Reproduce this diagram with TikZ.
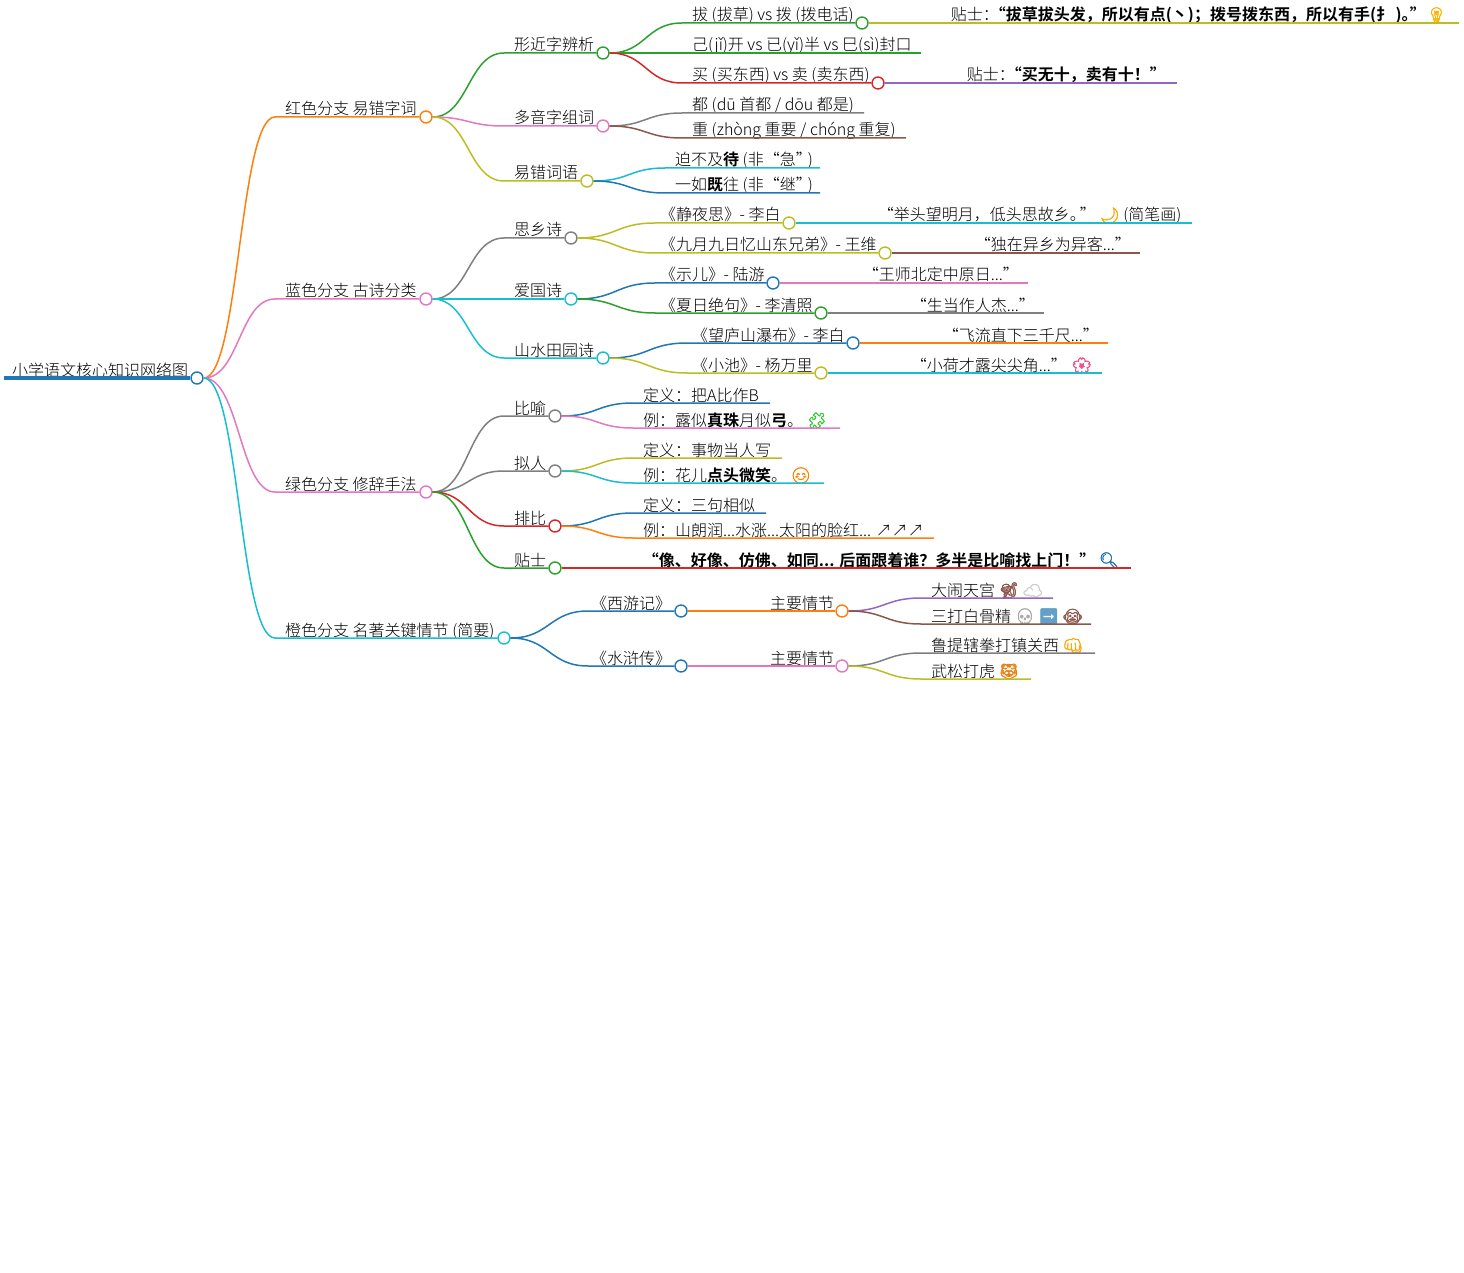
\documentclass[tikz,border=0pt]{standalone}
\usepackage{fontspec}
\setmainfont{Noto Sans CJK SC Light}[BoldFont={Noto Sans CJK SC Bold}]
\newfontfamily\emojifont{Noto Emoji}[FakeBold=2]
\usetikzlibrary{positioning}
\usetikzlibrary{calc}
\definecolor{cblue}{HTML}{1F77B4}
\definecolor{corange}{HTML}{FF7F0E}
\definecolor{cgreen}{HTML}{2CA02C}
\definecolor{cred}{HTML}{D62728}
\definecolor{cpurple}{HTML}{9467BD}
\definecolor{cbrown}{HTML}{8C564B}
\definecolor{cpink}{HTML}{E377C2}
\definecolor{cgray}{HTML}{7F7F7F}
\definecolor{colive}{HTML}{BCBD22}
\definecolor{ccyan}{HTML}{17BECF}
\newcommand{\emo}[2]{{\emojifont\color{#1}#2}}
\newcommand{\kn}[1]{\hspace{-#1pt}} % Pull wide punctuation together
\tikzset{
      dot/.style={ % Circle at the end of a branch
      circle,
      draw,
      fill=white,
      line width=1.4pt,
      minimum size=12pt,
      inner sep=0pt},
      lbl/.style={ % Text sits on the line
      inner sep=0pt,
      yshift=2pt,
      font=\fontsize{16}{18}\selectfont},
      link/.style={ % Bend with both control points half way
      line width=1.5pt,
      to path={let \p1=(\tikztostart), \p2=(\tikztotarget), \n1={0.5*(\x1+\x2)} in
            .. controls (\n1,\y1) and (\n1,\y2) .. (\p2)}}}

\begin{document}
\begin{tikzpicture}[x=1pt,y=-1pt]
      \useasboundingbox (0,0) rectangle (1464,1273);
      % dots
      \node[dot, draw=cblue] (root) at (197,378) {};
      \node[dot, draw=corange] (a) at (426,117) {};
      \node[dot, draw=cpink] (b) at (426,299) {};
      \node[dot, draw=cpink] (c) at (426,492) {};
      \node[dot, draw=ccyan] (d) at (504,638) {};
      \node[dot, draw=cgreen] (a1) at (603,53) {};
      \node[dot, draw=cpink] (a2) at (603,126) {};
      \node[dot, draw=colive] (a3) at (587,181) {};
      \node[dot, draw=cgreen] (a11) at (862,23) {};
      \node[dot, draw=cred] (a13) at (878,83) {};
      \node[dot, draw=cgray] (b1) at (571,238) {};
      \node[dot, draw=ccyan] (b2) at (571,299) {};
      \node[dot, draw=ccyan] (b3) at (603,358) {};
      \node[dot, draw=colive] (b11) at (789,223) {};
      \node[dot, draw=colive] (b12) at (885,253) {};
      \node[dot, draw=cblue] (b21) at (773,283) {};
      \node[dot, draw=cgreen] (b22) at (821,313) {};
      \node[dot, draw=cblue] (b31) at (853,343) {};
      \node[dot, draw=colive] (b32) at (821,373) {};
      \node[dot, draw=cgray] (c1) at (555,416) {};
      \node[dot, draw=cgray] (c2) at (555,471) {};
      \node[dot, draw=cred] (c3) at (555,526) {};
      \node[dot, draw=cgreen] (c4) at (555,568) {};
      \node[dot, draw=cblue] (d1) at (681,611) {};
      \node[dot, draw=cblue] (d2) at (681,666) {};
      \node[dot, draw=corange] (d11) at (842,611) {};
      \node[dot, draw=cpink] (d21) at (842,666) {};
      % where a curve turns into a straight line
      \coordinate (rootb) at (4,378);
      \coordinate (ab) at (275,117);
      \coordinate (bb) at (275,299);
      \coordinate (cb) at (275,492);
      \coordinate (db) at (275,638);
      \coordinate (a1b) at (504,53);
      \coordinate (a2b) at (504,126);
      \coordinate (a3b) at (504,181);
      \coordinate (a11b) at (682,23);
      \coordinate (a12b) at (682,53);
      \coordinate (a13b) at (682,83);
      \coordinate (a21b) at (682,113);
      \coordinate (a22b) at (682,138);
      \coordinate (a31b) at (665,168);
      \coordinate (a32b) at (665,193);
      \coordinate (b1b) at (504,238);
      \coordinate (b2b) at (504,299);
      \coordinate (b3b) at (504,358);
      \coordinate (b11b) at (655,223);
      \coordinate (b12b) at (655,253);
      \coordinate (b21b) at (655,283);
      \coordinate (b22b) at (655,313);
      \coordinate (b31b) at (687,343);
      \coordinate (b32b) at (687,373);
      \coordinate (c1b) at (504,416);
      \coordinate (c2b) at (504,471);
      \coordinate (c3b) at (504,526);
      \coordinate (c4b) at (504,568);
      \coordinate (c11b) at (633,403);
      \coordinate (c12b) at (633,428);
      \coordinate (c21b) at (633,458);
      \coordinate (c22b) at (633,483);
      \coordinate (c31b) at (633,513);
      \coordinate (c32b) at (633,538);
      \coordinate (d1b) at (588,611);
      \coordinate (d2b) at (588,666);
      \coordinate (d11b) at (760,611);
      \coordinate (d21b) at (760,666);
      \coordinate (d111b) at (921,598);
      \coordinate (d112b) at (921,624);
      \coordinate (d211b) at (921,653);
      \coordinate (d212b) at (921,679);
      % free ends
      \coordinate (a11e) at (1459,23);
      \coordinate (a12e) at (921,53);
      \coordinate (a13e) at (1177,83);
      \coordinate (a21e) at (864,113);
      \coordinate (a22e) at (906,138);
      \coordinate (a31e) at (820,168);
      \coordinate (a32e) at (820,193);
      \coordinate (b11e) at (1192,223);
      \coordinate (b12e) at (1140,253);
      \coordinate (b21e) at (1028,283);
      \coordinate (b22e) at (1044,313);
      \coordinate (b31e) at (1108,343);
      \coordinate (b32e) at (1102,373);
      \coordinate (c11e) at (770,403);
      \coordinate (c12e) at (840,428);
      \coordinate (c21e) at (782,458);
      \coordinate (c22e) at (824,483);
      \coordinate (c31e) at (766,513);
      \coordinate (c32e) at (934,538);
      \coordinate (c4e) at (1131,568);
      \coordinate (d111e) at (1053,598);
      \coordinate (d112e) at (1091,624);
      \coordinate (d211e) at (1095,653);
      \coordinate (d212e) at (1031,679);
      % texts
      \node[lbl, base right=8pt of rootb] (troot) {小学语文核心知识网络图};
      \node[lbl, base right=10pt of ab] (ta) {红色分支 易错字词};
      \node[lbl, base right=10pt of bb] (tb) {蓝色分支 古诗分类};
      \node[lbl, base right=10pt of cb] (tc) {绿色分支 修辞手法};
      \node[lbl, base right=10pt of db] (td) {橙色分支 名著关键情节 (简要)};
      \node[lbl, base right=10pt of a1b] (ta1) {形近字辨析};
      \node[lbl, base right=10pt of a2b] (ta2) {多音字组词};
      \node[lbl, base right=10pt of a3b] (ta3) {易错词语};
      \node[lbl, base right=10pt of a11b] (ta11) {拔 (拔草) vs 拨 (拨电话)};
      \node[lbl, base right=82pt of a11] (ta111) {贴士：\kn{9}\textbf{“拔草拔头发，所以有点(丶)；拨号拨东西，所以有手(扌 )。\kn{8}”}\kn{3} \emo{orange!60!yellow}{💡}};
      \node[lbl, base right=10pt of a12b] (ta12) {己(jǐ)开 vs 已(yǐ)半 vs 巳(sì)封口};
      \node[lbl, base right=10pt of a13b] (ta13) {买 (买东西) vs 卖 (卖东西)};
      \node[lbl, base right=82pt of a13] (ta131) {贴士：\kn{9}\textbf{“买无十，卖有十！”}};
      \node[lbl, base right=10pt of a21b] (ta21) {都 (dū 首都 / dōu 都是)};
      \node[lbl, base right=10pt of a22b] (ta22) {重 (zhòng 重要 / chóng 重复)};
      \node[lbl, base right=10pt of a31b] (ta31) {迫不及\textbf{待} (非“急”\kn{4})};
      \node[lbl, base right=10pt of a32b] (ta32) {一如\textbf{既}往 (非“继”\kn{4})};
      \node[lbl, base right=10pt of b1b] (tb1) {思乡诗};
      \node[lbl, base right=10pt of b2b] (tb2) {爱国诗};
      \node[lbl, base right=10pt of b3b] (tb3) {山水田园诗};
      \node[lbl, base right=5pt of b11b] (tb11) {《静夜思》\kn{4} - 李白};
      \node[lbl, base right=82pt of b11] (tb111) {“举头望明月，低头思故乡。\kn{6}” \emo{orange!70!yellow}{🌙} (简笔画)};
      \node[lbl, base right=5pt of b12b] (tb12) {《九月九日忆山东兄弟》\kn{4} - 王维};
      \node[lbl, base right=83pt of b12] (tb121) {“独在异乡为异客...”};
      \node[lbl, base right=5pt of b21b] (tb21) {《示儿》\kn{4} - 陆游};
      \node[lbl, base right=83pt of b21] (tb211) {“王师北定中原日...”};
      \node[lbl, base right=5pt of b22b] (tb22) {《夏日绝句》\kn{4} - 李清照};
      \node[lbl, base right=83pt of b22] (tb221) {“生当作人杰...”};
      \node[lbl, base right=5pt of b31b] (tb31) {《望庐山瀑布》\kn{4} - 李白};
      \node[lbl, base right=83pt of b31] (tb311) {“飞流直下三千尺...”};
      \node[lbl, base right=5pt of b32b] (tb32) {《小池》\kn{4} - 杨万里};
      \node[lbl, base right=83pt of b32] (tb321) {“小荷才露尖尖角...” \emo{cpink!70!red}{🌸}};
      \node[lbl, base right=10pt of c1b] (tc1) {比喻};
      \node[lbl, base right=10pt of c2b] (tc2) {拟人};
      \node[lbl, base right=10pt of c3b] (tc3) {排比};
      \node[lbl, base right=10pt of c4b] (tc4) {贴士};
      \node[lbl, base right=10pt of c11b] (tc11) {定义：把A比作B};
      \node[lbl, base right=10pt of c12b] (tc12) {例：露似\textbf{真珠}月似\textbf{弓}。 \emo{green!60!gray}{🧩}};
      \node[lbl, base right=10pt of c21b] (tc21) {定义：事物当人写};
      \node[lbl, base right=10pt of c22b] (tc22) {例：花儿\textbf{点头微笑}。 \emo{orange}{😊}};
      \node[lbl, base right=10pt of c31b] (tc31) {定义：三句相似};
      \node[lbl, base right=10pt of c32b] (tc32) {例：山朗润...水涨...太阳的脸红... ↗↗↗};
      \node[lbl, base right=81pt of c4] (tc41) {\textbf{“像、好像、仿佛、如同... 后面跟着谁？多半是比喻找上门！”} \emo{cblue}{🔍}};
      \node[lbl, base right=3pt of d1b] (td1) {《西游记》};
      \node[lbl, base right=3pt of d2b] (td2) {《水浒传》};
      \node[lbl, base right=10pt of d11b] (td11) {主要情节};
      \node[lbl, base right=10pt of d21b] (td21) {主要情节};
      \node[lbl, base right=10pt of d111b] (td111) {大闹天宫 \emo{cbrown}{🐒} \emo{gray!40}{☁}};
      \node[lbl, base right=10pt of d112b] (td112) {三打白骨精 \emo{gray!70}{💀} \emo{cblue!70}{➡} \emo{cbrown}{🐵}};
      \node[lbl, base right=10pt of d211b] (td211) {鲁提辖拳打镇关西 \emo{orange!70!yellow}{👊}};
      \node[lbl, base right=10pt of d212b] (td212) {武松打虎 \emo{orange!70!brown}{🐯}};
      % branches
      \draw[cblue, line width=3.5pt] (rootb) -- (root);
      \draw[link, corange] (root.east) to (ab) -- (a);
      \draw[link, cpink] (root.east) to (bb) -- (b);
      \draw[link, cpink] (root.east) to (cb) -- (c);
      \draw[link, ccyan] (root.east) to (db) -- (d);
      \draw[link, cgreen] (a.east) to (a1b) -- (a1);
      \draw[link, cpink] (a.east) to (a2b) -- (a2);
      \draw[link, colive] (a.east) to (a3b) -- (a3);
      \draw[link, cgreen] (a1.east) to (a11b) -- (a11);
      \draw[link, cgreen] (a1.east) to (a12b) -- (a12e);
      \draw[link, cred] (a1.east) to (a13b) -- (a13);
      \draw[link, colive] (a11.east) -- (a11e);
      \draw[link, cpurple] (a13.east) -- (a13e);
      \draw[link, cgray] (a2.east) to (a21b) -- (a21e);
      \draw[link, cbrown] (a2.east) to (a22b) -- (a22e);
      \draw[link, ccyan] (a3.east) to (a31b) -- (a31e);
      \draw[link, cblue] (a3.east) to (a32b) -- (a32e);
      \draw[link, cgray] (b.east) to (b1b) -- (b1);
      \draw[link, ccyan] (b.east) to (b2b) -- (b2);
      \draw[link, ccyan] (b.east) to (b3b) -- (b3);
      \draw[link, colive] (b1.east) to (b11b) -- (b11);
      \draw[link, colive] (b1.east) to (b12b) -- (b12);
      \draw[link, cblue] (b2.east) to (b21b) -- (b21);
      \draw[link, cgreen] (b2.east) to (b22b) -- (b22);
      \draw[link, cblue] (b3.east) to (b31b) -- (b31);
      \draw[link, colive] (b3.east) to (b32b) -- (b32);
      \draw[link, ccyan] (b11.east) -- (b11e);
      \draw[link, cbrown] (b12.east) -- (b12e);
      \draw[link, cpink] (b21.east) -- (b21e);
      \draw[link, cgray] (b22.east) -- (b22e);
      \draw[link, corange] (b31.east) -- (b31e);
      \draw[link, ccyan] (b32.east) -- (b32e);
      \draw[link, cgray] (c.east) to (c1b) -- (c1);
      \draw[link, cgray] (c.east) to (c2b) -- (c2);
      \draw[link, cred] (c.east) to (c3b) -- (c3);
      \draw[link, cgreen] (c.east) to (c4b) -- (c4);
      \draw[link, cblue] (c1.east) to (c11b) -- (c11e);
      \draw[link, cpink] (c1.east) to (c12b) -- (c12e);
      \draw[link, colive] (c2.east) to (c21b) -- (c21e);
      \draw[link, ccyan] (c2.east) to (c22b) -- (c22e);
      \draw[link, cblue] (c3.east) to (c31b) -- (c31e);
      \draw[link, corange] (c3.east) to (c32b) -- (c32e);
      \draw[link, cred] (c4.east) -- (c4e);
      \draw[link, cblue] (d.east) to (d1b) -- (d1);
      \draw[link, cblue] (d.east) to (d2b) -- (d2);
      \draw[link, corange] (d1.east) -- (d11);
      \draw[link, cpink] (d2.east) -- (d21);
      \draw[link, cpurple] (d11.east) to (d111b) -- (d111e);
      \draw[link, cbrown] (d11.east) to (d112b) -- (d112e);
      \draw[link, cgray] (d21.east) to (d211b) -- (d211e);
      \draw[link, colive] (d21.east) to (d212b) -- (d212e);
\end{tikzpicture}
\end{document}
